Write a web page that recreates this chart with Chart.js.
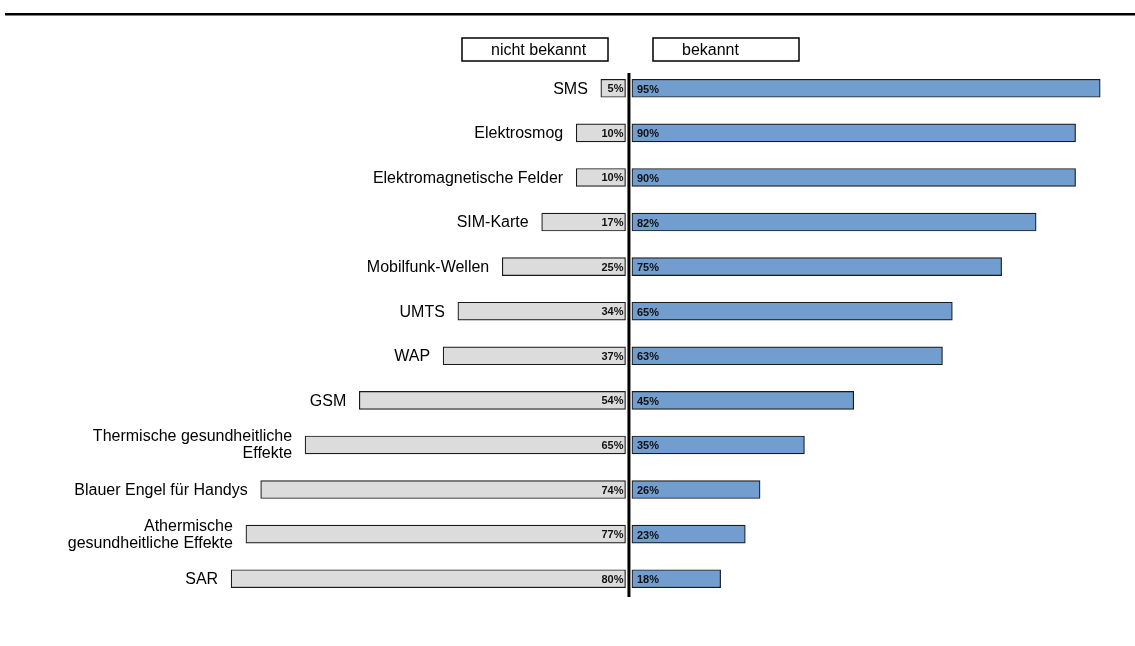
<!DOCTYPE html>
<html>
<head>
<meta charset="utf-8">
<script src="https://cdn.jsdelivr.net/npm/chart.js@4/dist/chart.umd.min.js"></script>
<style>
	body { margin: 0; background: #fff; }
	#wrap { width: 1135px; height: 646px; }
</style>
</head>
<body>
<div id="wrap"><canvas id="chart" width="1135" height="646"></canvas></div>
<script>
// Daten
var kategorien = [
	"SMS",
	"Elektrosmog",
	"Elektromagnetische Felder",
	"SIM-Karte",
	"Mobilfunk-Wellen",
	"UMTS",
	"WAP",
	"GSM",
	["Thermische gesundheitliche", "Effekte"],
	"Blauer Engel für Handys",
	["Athermische", "gesundheitliche Effekte"],
	"SAR"
];
var nichtBekannt = [5, 10, 10, 17, 25, 34, 37, 54, 65, 74, 77, 80];
var bekannt      = [95, 90, 90, 82, 75, 65, 63, 45, 35, 26, 23, 18];

// kleiner Abstand links/rechts der Mittellinie (in %-Einheiten der Achse)
var LUECKE_L = 0.7;
var LUECKE_R = 0.6;

var FONT = '"Liberation Sans", Arial, sans-serif';

var beschriftung = {
	id: "beschriftung",
	beforeDraw: function(chart){
		var c = chart.ctx;
		c.save();
		// obere Linie
		c.fillStyle = "#000";
		c.fillRect(5, 13, 1130, 2.5);
		// Legendenkästen
		var boxen = [
			{x: 462, w: 146, text: chart.data.datasets[0].label},
			{x: 653, w: 146, text: chart.data.datasets[1].label}
		];
		c.lineWidth = 1.5;
		c.strokeStyle = "#000";
		c.font = "16px " + FONT;
		c.textBaseline = "middle";
		c.textAlign = "left";
		for (var b of boxen) {
			c.fillStyle = "#fff";
			c.fillRect(b.x, 38, b.w, 23);
			c.strokeRect(b.x, 38, b.w, 23);
			c.fillStyle = "#000";
			c.fillText(b.text, b.x + 29, 50.5);
		}
		c.restore();
	},
	afterDatasetsDraw: function(chart){
		var c = chart.ctx;
		var area = chart.chartArea;
		var links = chart.getDatasetMeta(0).data;
		var rechts = chart.getDatasetMeta(1).data;
		c.save();
		// Mittellinie
		var x0 = chart.scales.x.getPixelForValue(0);
		c.strokeStyle = "#000";
		c.lineWidth = 3;
		c.beginPath();
		c.moveTo(x0, area.top + 7);
		c.lineTo(x0, area.bottom - 4);
		c.stroke();

		for (var i = 0; i < links.length; i++) {
			var l = links[i], r = rechts[i];
			var lStart = Math.min(l.x, l.base), lEnde = Math.max(l.x, l.base);
			var rStart = Math.min(r.x, r.base);

			// Kategorien
			c.fillStyle = "#000";
			c.font = "16px " + FONT;
			c.textAlign = "right";
			c.textBaseline = "middle";
			var txt = kategorien[i];
			if (Array.isArray(txt)) {
				c.fillText(txt[0], lStart - 13, l.y - 8);
				c.fillText(txt[1], lStart - 13, l.y + 9);
			} else {
				c.fillText(txt, lStart - 13, l.y + 1);
			}

			// Werte
			c.font = "bold 11px " + FONT;
			c.fillStyle = "#111";
			c.fillText(nichtBekannt[i] + "%", lEnde - 2, l.y + 1);
			c.textAlign = "left";
			c.fillText(bekannt[i] + "%", rStart + 5, r.y + 1.5);
		}
		c.restore();
	}
};

var chart = new Chart(document.getElementById("chart").getContext("2d"), {
	type: "bar",
	data: {
		labels: kategorien,
		datasets: [
			{
				label: "nicht bekannt",
				data: nichtBekannt.map(function(v){ return [-LUECKE_L, -LUECKE_L - v]; }),
				backgroundColor: "#DCDCDC",
				borderColor: "#1a1a1a",
				borderWidth: 1.2,
				borderSkipped: false,
				barThickness: 18,
				grouped: false
			},
			{
				label: "bekannt",
				data: bekannt.map(function(v){ return [LUECKE_R, LUECKE_R + v]; }),
				backgroundColor: "#729DCF",
				borderColor: "#1a1a1a",
				borderWidth: 1.2,
				borderSkipped: false,
				barThickness: 18,
				grouped: false
			}
		]
	},
	options: {
		indexAxis: "y",
		responsive: false,
		animation: false,
		layout: {
			padding: { left: 170, right: 20, top: 66, bottom: 45 }
		},
		plugins: {
			legend: { display: false },
			tooltip: { enabled: false }
		},
		scales: {
			x: {
				display: false,
				min: -93.1,
				max: 98.6
			},
			y: {
				display: false,
				grid: { display: false }
			}
		}
	},
	plugins: [beschriftung]
});
</script>
</body>
</html>
